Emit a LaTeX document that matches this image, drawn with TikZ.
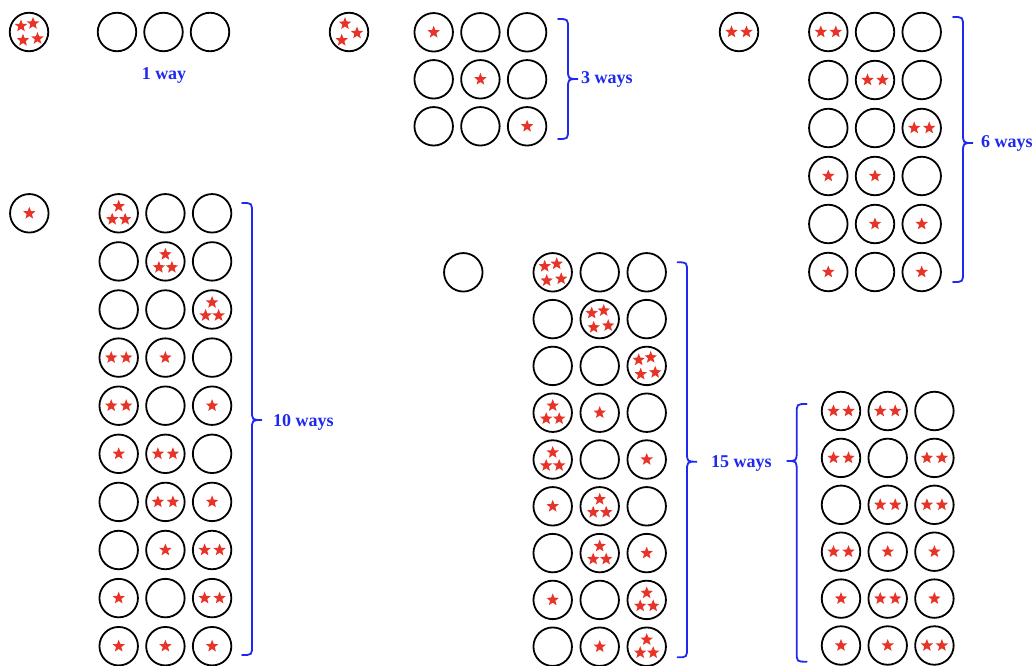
\documentclass[tikz,border=0pt]{standalone}
\usepackage{fontspec}
\setmainfont{Liberation Serif}
\definecolor{starred}{RGB}{232,52,40}
\definecolor{braceblue}{RGB}{30,40,240}
\tikzset{
  ball/.style={circle, draw=black, line width=1.8pt, minimum size=38.5pt, inner sep=0pt},
  bracestyle/.style={draw=braceblue, line width=1.8pt, line cap=round},
  waylabel/.style={text=braceblue, font=\bfseries\fontsize{18}{20}\selectfont, anchor=base west, inner sep=0pt},
  sa/.pic={\fill[starred] (90:6.5pt) -- (126:2.8pt) -- (162:6.5pt) -- (198:2.8pt) -- (234:6.5pt)
      -- (270:2.8pt) -- (306:6.5pt) -- (342:2.8pt) -- (18:6.5pt) -- (54:2.8pt) -- cycle;}
}
\newcommand\stars[2]{\begin{scope}[shift={(#1)}]\ifcase#2\relax
  \or \path (0pt,0pt) pic{sa};
  \or \path (-7.5pt,0pt) pic{sa} (7.5pt,0pt) pic{sa};
  \or \path (0pt,7pt) pic{sa} (-6.5pt,-6pt) pic{sa} (6.5pt,-6pt) pic{sa};
  \or \path (-8pt,6pt) pic{sa} (4pt,8.5pt) pic{sa} (-6pt,-8.3pt) pic{sa} (8.5pt,-6.5pt) pic{sa};
  \or \path (-4pt,8.3pt) pic{sa} (8pt,-1pt) pic{sa} (-7.3pt,-8.3pt) pic{sa};
  \fi\end{scope}}
% name, x0, y0, dx, dy, rows
\newcommand\cellgrid[6]{%
  \foreach \row [count=\i] in {#6} {
    \foreach \p [count=\j] in \row {
      \node[ball] (#1-\i-\j) at ({#2+(\j-1)*#4},{#3+(\i-1)*#5}) {};
      \stars{#1-\i-\j}{\p}
    }
  }}
% single circle: name, x, y, pattern
\newcommand\single[4]{\node[ball] (#1) at (#2,#3) {}; \stars{#1}{#4}}
% brace: x-end, x-vertical, x-tip, y-top, y-tip, y-bottom
\newcommand\curly[6]{\draw[bracestyle] (#1,#4) .. controls (#2,#4) .. (#2,#4+10)
  -- (#2,#5-10) .. controls (#2,#5) .. (#3,#5) .. controls (#2,#5) .. (#2,#5+10)
  -- (#2,#6-10) .. controls (#2,#6) .. (#1,#6);}
\begin{document}
\begin{tikzpicture}[x=1pt,y=-1pt]
\useasboundingbox (0,0) rectangle (1036,666);
% group 1
\single{a0}{29}{32}{4}
\cellgrid{a}{117}{32}{46.5}{0}{{0,0,0}}
\node[waylabel, anchor=base] (la) at (164,80) {1 way};
% group 2
\single{b0}{349}{32}{5}
\cellgrid{b}{433.7}{32.3}{46.7}{47}{{1,0,0},{0,1,0},{0,0,1}}
\curly{558}{568}{578}{19}{79}{139}
\node[waylabel] (lb) at (581,84) {3 ways};
% group 3
\single{c0}{739}{32}{2}
\cellgrid{c}{828.3}{32}{46.7}{48}{{2,0,0},{0,2,0},{0,0,2},{1,1,0},{0,1,1},{1,0,1}}
\curly{953}{963}{973}{17}{143}{282}
\node[waylabel] (lc) at (981,148) {6 ways};
% group 4
\single{d0}{29.3}{213.3}{1}
\cellgrid{d}{118.7}{213.3}{46.7}{48.1}{{3,0,0},{0,3,0},{0,0,3},{2,1,0},{2,0,1},{1,2,0},{0,2,1},{0,1,2},{1,0,2},{1,1,1}}
\curly{242}{252}{262}{203}{420}{655}
\node[waylabel] (ld) at (273,426) {10 ways};
% group 5
\single{e0}{463.3}{272.3}{0}
\cellgrid{e}{552.7}{272.3}{47}{46.8}{{4,0,0},{0,4,0},{0,0,4},{3,1,0},{3,0,1},{1,3,0},{0,3,1},{1,0,3},{0,1,3}}
\curly{677.5}{687}{697}{262.3}{461.7}{657.3}
\node[waylabel] (le) at (711,467) {15 ways};
% group 6
\cellgrid{f}{841}{411}{46.7}{46.9}{{2,2,0},{2,0,2},{0,2,2},{2,1,1},{1,2,1},{1,1,2}}
\curly{806.7}{796.7}{786.7}{404}{461}{661.7}
\end{tikzpicture}
\end{document}
